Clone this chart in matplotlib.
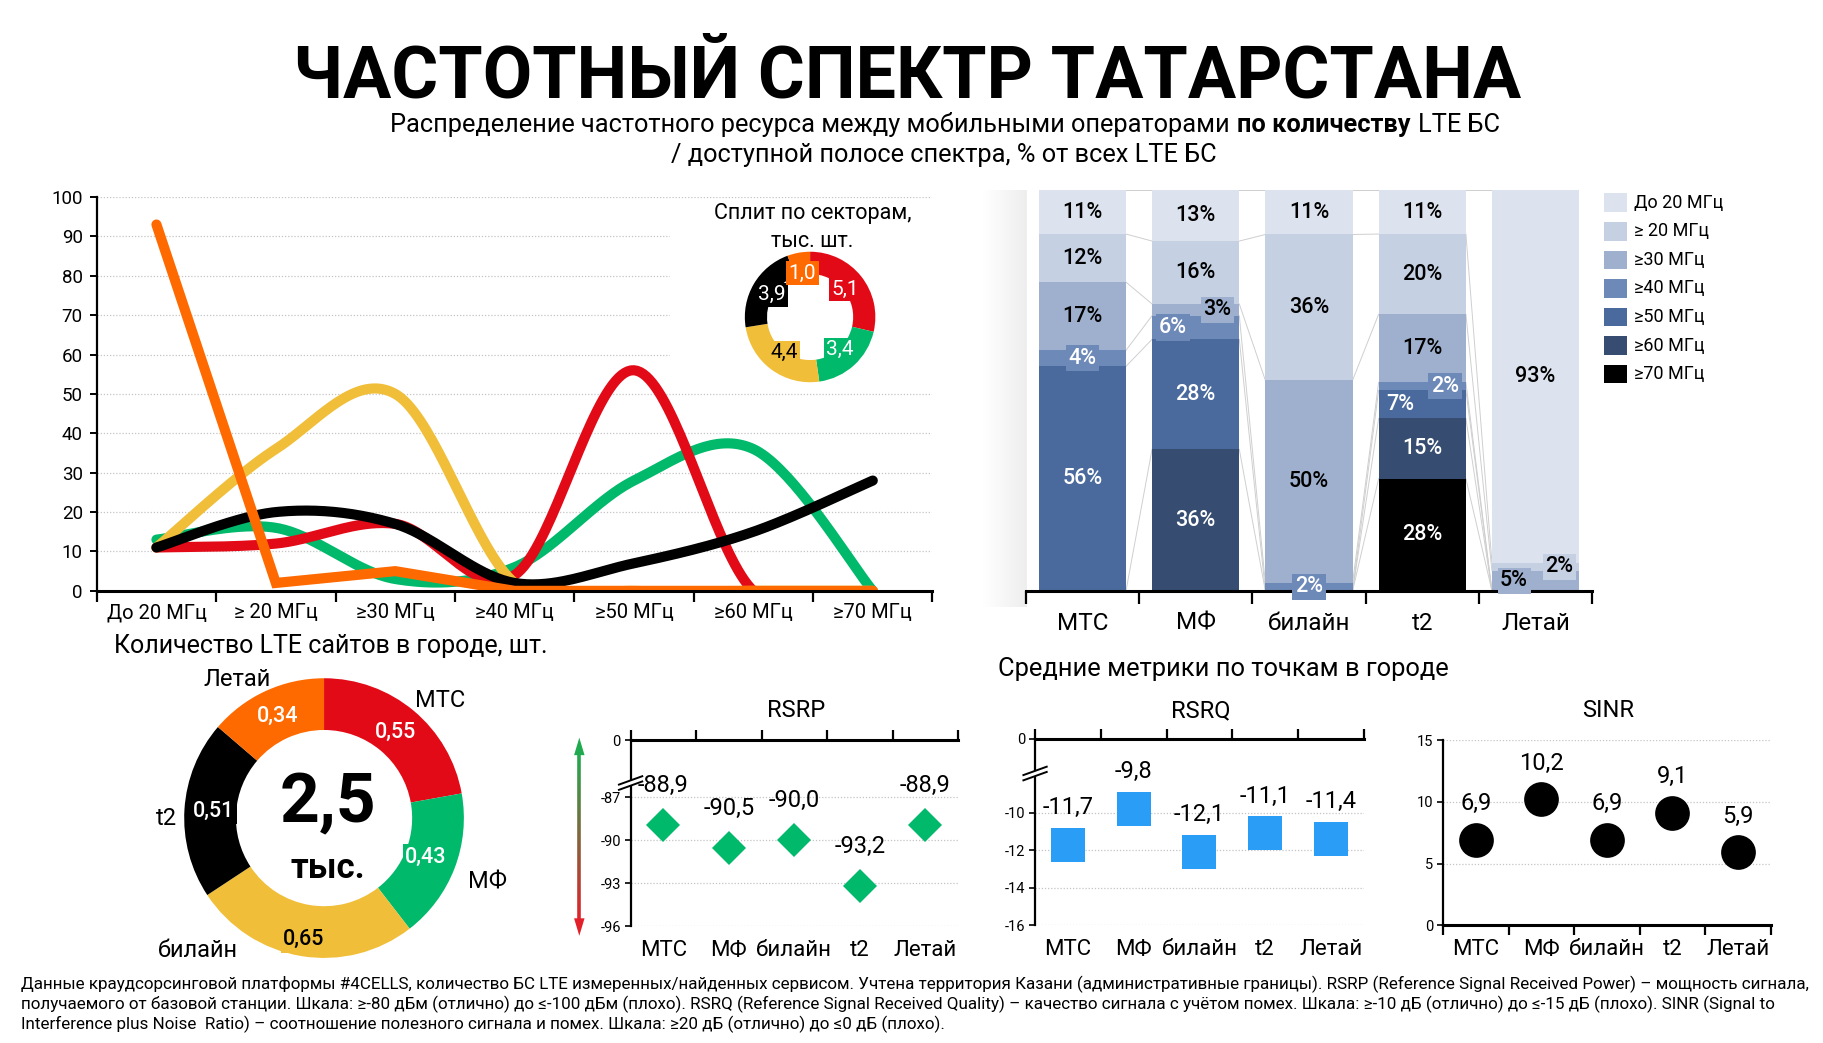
import numpy as np
import matplotlib
matplotlib.use('Agg')
import matplotlib.pyplot as plt
from matplotlib.patches import Rectangle, Polygon
from matplotlib.collections import LineCollection
from matplotlib.colors import LinearSegmentedColormap

plt.rcParams['font.family'] = ['Roboto', 'DejaVu Sans']

# ---------------- DATA ----------------
operators = ['МТС', 'МФ', 'билайн', 't2', 'Летай']
op_colors = ['#E30A17', '#00B96B', '#F0BE38', '#000000', '#FF6A00']

bands = ['До 20 МГц', '≥ 20 МГц', '≥30 МГц', '≥40 МГц', '≥50 МГц', '≥60 МГц', '≥70 МГц']
band_colors = ['#DDE3EE', '#C5D0E3', '#9EB0CE', '#6D89B8', '#4A6A9D', '#364C70', '#000000']

share_mts = [11, 12, 17, 4, 56, 0, 0]
share_mf = [13, 16, 3, 6, 28, 36, 0]
share_beeline = [11, 36, 50, 2, 0, 0, 0]
share_t2 = [11, 20, 17, 2, 7, 15, 28]
share_letai = [93, 2, 5, 0, 0, 0, 0]

line_yticks = [0, 10, 20, 30, 40, 50, 60, 70, 80, 90, 100]

sectors_k = [5.1, 3.4, 4.4, 3.9, 1.0]          # тыс. секторов
sites_k = [0.55, 0.43, 0.65, 0.51, 0.34]       # тыс. сайтов
sites_total = 2.5

rsrp = [-88.9, -90.5, -90.0, -93.2, -88.9]
rsrq = [-11.7, -9.8, -12.1, -11.1, -11.4]
sinr = [6.9, 10.2, 6.9, 9.1, 5.9]
rsrp_ticks = [-96, -93, -90, -87]
rsrq_ticks = [-16, -14, -12, -10]
sinr_ticks = [0, 5, 10, 15]
broken_top_label = '0'

title = 'ЧАСТОТНЫЙ СПЕКТР ТАТАРСТАНА'
sub1 = ['Распределение частотного ресурса между мобильными операторами', 'по количеству', 'LTE БС']
sub2 = '/ доступной полосе спектра, % от всех LTE БС'
footnote = [
    'Данные краудсорсинговой платформы #4CELLS, количество БС LTE измеренных/найденных сервисом. Учтена территория Казани (административные границы). RSRP (Reference Signal Received Power) – мощность сигнала,',
    'получаемого от базовой станции. Шкала: ≥-80 дБм (отлично) до ≤-100 дБм (плохо). RSRQ (Reference Signal Received Quality) – качество сигнала с учётом помех. Шкала: ≥-10 дБ (отлично) до ≤-15 дБ (плохо). SINR (Signal to',
    'Interference plus Noise  Ratio) – соотношение полезного сигнала и помех. Шкала: ≥20 дБ (отлично) до ≤0 дБ (плохо).',
]

shares = np.array([share_mts, share_mf, share_beeline, share_t2, share_letai], dtype=float)

# ---------------- LAYOUT HELPERS ----------------
W, H = 1564.0, 895.0
SX = 1823.0 / W

fig = plt.figure(figsize=(18.23, 10.43), dpi=100)
fig.patch.set_facecolor('white')
renderer = fig.canvas.get_renderer()


def rect(l, t, r, b):
    return [l / W, 1 - b / H, (r - l) / W, (b - t) / H]


def fit_text(x, y, s, width, size=12, **kw):
    t = fig.text(x / W, 1 - y / H, s, fontsize=size, **kw)
    w = t.get_window_extent(renderer=renderer).width
    t.set_fontsize(size * width * SX / w)
    return t


def measure(s, size, weight='normal'):
    t = fig.text(0, 0, s, fontsize=size, fontweight=weight)
    w = t.get_window_extent(renderer=renderer).width
    t.remove()
    return w


def fmt(v, d=1):
    return f'{v:.{d}f}'.replace('.', ',')


# ---------------- TITLES ----------------
fit_text(778, 84, title, 1055, size=50, fontweight='bold', ha='center', va='baseline')

weights = ['normal', 'bold', 'normal']
size_sub = 16
ws = [measure(s, size_sub, w) for s, w in zip(sub1, weights)]
sp = measure('a a', size_sub) - measure('aa', size_sub)
gaps = [0.55 * sp, 1.0 * sp]
scale = 952 * SX / (sum(ws) + sum(gaps))
size_sub *= scale
ws = [w * scale for w in ws]
gaps = [g * scale for g in gaps] + [0]
x = 811 * SX - (sum(ws) + sum(gaps)) / 2
for s, w, wt, g in zip(sub1, ws, weights, gaps):
    fig.text(x / 1823.0, 1 - 113 / H, s, fontsize=size_sub, fontweight=wt, va='baseline', ha='left')
    x += w + g
fig.text(810 / W, 1 - 139 / H, sub2, fontsize=size_sub, ha='center', va='baseline')

# ---------------- LINE CHART ----------------
def smooth(xs, ys, n=40):
    P = np.column_stack([xs, ys]).astype(float)
    Pe = np.vstack([P[0], P, P[-1]])
    t = np.linspace(0, 1, n)[:, None]
    out = []
    for i in range(len(P) - 1):
        p0, p1, p2, p3 = Pe[i], Pe[i + 1], Pe[i + 2], Pe[i + 3]
        c1 = p1 + (p2 - p0) / 6
        c2 = p2 - (p3 - p1) / 6
        seg = (1 - t) ** 3 * p1 + 3 * (1 - t) ** 2 * t * c1 + 3 * (1 - t) * t ** 2 * c2 + t ** 3 * p2
        out.append(seg if i == 0 else seg[1:])
    return np.vstack(out)


axl = fig.add_axes(rect(83, 169, 800, 507))
axl.set_xlim(0, 7)
axl.set_ylim(0, 100)
axl.set_axisbelow(True)
xc = np.arange(len(bands)) + 0.5
for y in line_yticks[1:]:
    axl.axhline(y, color='#c4c4c4', lw=0.9, ls=(0, (1, 1.5)), zorder=0.5)
axl.add_patch(Rectangle((4.8, 52), 2.2, 44, facecolor='white', edgecolor='none', zorder=1))
line_z = [3, 2, 4, 5, 6]
for k in range(len(operators)):
    if k == 4:
        xy = np.column_stack([xc, shares[k]])
        join = 'miter'
    else:
        xy = smooth(xc, shares[k])
        join = 'round'
    axl.plot(xy[:, 0], xy[:, 1], color=op_colors[k], lw=7.3, solid_capstyle='round',
             solid_joinstyle=join, zorder=line_z[k])
for s in ['top', 'right']:
    axl.spines[s].set_visible(False)
axl.spines['left'].set_linewidth(1.6)
axl.spines['bottom'].set_linewidth(2.2)
axl.spines['bottom'].set_zorder(7)
axl.set_yticks(line_yticks)
axl.tick_params(axis='y', labelsize=13.5, length=5, width=1.4, pad=5)
axl.set_xticks(xc, bands)
axl.tick_params(axis='x', which='major', length=0, labelsize=14.5, pad=9)
axl.set_xticks(np.arange(8), minor=True)
axl.tick_params(axis='x', which='minor', length=8, width=1.6)

# inset donut: sectors
fig.text(697 / W, 1 - 183 / H, 'Сплит по секторам,', fontsize=15.5, ha='center', va='center')
fig.text(697 / W, 1 - 207 / H, 'тыс. шт.', fontsize=15.5, ha='center', va='center')
axs = fig.add_axes(rect(695 - 56, 272 - 56, 695 + 56, 272 + 56))
axs.pie(sectors_k, colors=op_colors, startangle=90, counterclock=False, radius=1,
        wedgeprops=dict(width=0.34, edgecolor='none'))
axs.set_xlim(-1, 1)
axs.set_ylim(-1, 1)
axs.set_aspect('equal')
axs.axis('off')
cum = np.cumsum(sectors_k)
tot = cum[-1]
for k, v in enumerate(sectors_k):
    th = np.deg2rad(360 * (cum[k] - v / 2) / tot)
    r = 0.68
    col = 'black' if k == 2 else 'white'
    axs.text(r * np.sin(th), r * np.cos(th), fmt(v), ha='center', va='center', fontsize=15, color=col,
             bbox=dict(boxstyle='square,pad=0.12', facecolor=op_colors[k], edgecolor='none'))

# ---------------- STACKED BARS ----------------
axsh = fig.add_axes(rect(843, 163, 880, 521))
grad = np.linspace(0, 1, 50)[None, :]
axsh.imshow(grad, aspect='auto', cmap=LinearSegmentedColormap.from_list('sh', ['#ffffff', '#eeeeee']),
            extent=(0, 1, 0, 1))
axsh.axis('off')

axb = fig.add_axes(rect(880, 163, 1366, 507))
axb.set_xlim(-0.5, 4.5)
axb.set_ylim(0, 100)
bw = 0.77
heights = shares / shares.sum(axis=1, keepdims=True) * 100
nb = len(bands)
tops = np.zeros((len(operators), nb))
for j in range(nb - 1, -1, -1):
    bottom = heights[:, j + 1:].sum(axis=1)
    axb.bar(np.arange(len(operators)), heights[:, j], bw, bottom=bottom, color=band_colors[j], zorder=2)
    tops[:, j] = bottom + heights[:, j]
for j in range(nb):
    for i in range(len(operators) - 1):
        axb.plot([i + bw / 2, i + 1 - bw / 2], [tops[i, j], tops[i + 1, j]], color='#cfcfcf', lw=0.7, zorder=1)
label_dx = {(1, 3): -0.2, (1, 2): 0.19, (3, 4): -0.19, (3, 3): 0.2, (4, 2): -0.19, (4, 1): 0.21}
for i in range(len(operators)):
    for j in range(nb):
        v = shares[i, j]
        if v <= 0:
            continue
        yc = tops[i, j] - heights[i, j] / 2
        col = 'white' if j >= 3 else 'black'
        kw = {}
        if v < 10:
            kw['bbox'] = dict(boxstyle='square,pad=0.12', facecolor=band_colors[j], edgecolor='none')
        axb.text(i + label_dx.get((i, j), 0), yc, f'{int(v)}%', ha='center', va='center', fontsize=15.5,
                 fontweight='medium', color=col, zorder=4, **kw)
for s in ['top', 'right', 'left']:
    axb.spines[s].set_visible(False)
axb.spines['bottom'].set_linewidth(2.2)
axb.set_yticks([])
axb.set_xticks(np.arange(len(operators)), operators)
axb.tick_params(axis='x', which='major', length=0, labelsize=17.5, pad=15)
axb.set_xticks(np.arange(-0.5, 5, 1), minor=True)
axb.tick_params(axis='x', which='minor', length=9, width=1.6)
axb.set_zorder(2)
axb.patch.set_visible(False)

for j, (lab, c) in enumerate(zip(bands, band_colors)):
    yc = 174 + j * 24.5
    fig.patches.append(Rectangle((1376 / W, 1 - (yc + 8) / H), 20 / W, 16 / H, facecolor=c,
                                 edgecolor='none', transform=fig.transFigure, figure=fig))
    fig.text(1402 / W, 1 - yc / H, lab, fontsize=13, ha='left', va='center')

# ---------------- BIG DONUT ----------------
fit_text(98, 554, 'Количество LTE сайтов в городе, шт.', 372, size=18, ha='left', va='center')
axd = fig.add_axes(rect(278 - 120, 702 - 120, 278 + 120, 702 + 120))
axd.pie(sites_k, colors=op_colors, startangle=90, counterclock=False, radius=1,
        wedgeprops=dict(width=0.37, edgecolor='none'))
axd.set_xlim(-1, 1)
axd.set_ylim(-1, 1)
axd.set_aspect('equal')
axd.axis('off')
cum = np.cumsum(sites_k)
tot = cum[-1]
val_r = [0.8, 0.78, 0.88, 0.79, 0.8]
name_pos = [(0.83, 0.84), (1.17, -0.46), (-0.9, -0.95), (-1.13, 0.0), (-0.62, 0.99)]
for k, v in enumerate(sites_k):
    th = np.deg2rad(360 * (cum[k] - v / 2) / tot)
    r = val_r[k]
    col = 'black' if k == 2 else 'white'
    axd.text(r * np.sin(th), r * np.cos(th), fmt(v, 2), ha='center', va='center', fontsize=15.5,
             fontweight='medium', color=col,
             bbox=dict(boxstyle='square,pad=0.12', facecolor=op_colors[k], edgecolor='none'))
    axd.text(name_pos[k][0], name_pos[k][1], operators[k], ha='center', va='center', fontsize=17)
axd.text(0.03, 0.1, fmt(sites_total), ha='center', va='center', fontsize=50, fontweight='bold')
axd.text(0.03, -0.36, 'тыс.', ha='center', va='center', fontsize=25, fontweight='bold')

# ---------------- METRICS ----------------
fit_text(856, 574, 'Средние метрики по точкам в городе', 386, size=18, ha='left', va='center')


def draw_break(ax, yval):
    lo, hi = ax.get_ylim()
    ya = (yval - lo) / (hi - lo)
    bb = ax.get_position()
    wd = bb.width * W
    hd = bb.height * H
    dx = 10 / wd
    dy = 3.6 / hd
    sep = 4.5 / hd
    poly = Polygon([(-dx, ya - dy - sep / 2), (dx, ya + dy - sep / 2), (dx, ya + dy + sep / 2),
                    (-dx, ya - dy + sep / 2)],
                   closed=True, transform=ax.transAxes, facecolor='white', edgecolor='none', clip_on=False, zorder=5)
    ax.add_patch(poly)
    for s in (-sep / 2, sep / 2):
        ax.plot([-dx, dx], [ya - dy + s, ya + dy + s], transform=ax.transAxes, color='black', lw=1.4,
                clip_on=False, zorder=6)


def metric_axes(box, vals, ylim, ticks, top_label, marker, color, ms, label_off, ttl, ttl_x,
                axis_top, break_val=None):
    ax = fig.add_axes(rect(*box))
    ax.set_xlim(-0.5, 4.5)
    ax.set_ylim(*ylim)
    ax.patch.set_visible(False)
    for t in ticks:
        ax.axhline(t, color='#c4c4c4', lw=0.9, ls=(0, (1, 1.5)), zorder=0.5)
    ax.plot(np.arange(len(vals)), vals, ls='none', marker=marker, ms=ms, color=color, mec=color,
            mew=0, zorder=3, clip_on=False)
    for i, v in enumerate(vals):
        ax.annotate(fmt(v), (i, v), xytext=(0, label_off), textcoords='offset points', ha='center',
                    va='center', fontsize=17, zorder=4)
    yt = list(ticks)
    yl = [str(t) for t in ticks]
    if top_label is not None:
        yt.append(ylim[1])
        yl.append(top_label)
    ax.set_yticks(yt, yl)
    ax.tick_params(axis='y', labelsize=10.5, length=4, width=1.2, pad=3)
    ax.spines['right'].set_visible(False)
    ax.spines['left'].set_linewidth(1.6)
    if axis_top:
        ax.spines['bottom'].set_visible(False)
        ax.spines['top'].set_linewidth(2.2)
    else:
        ax.spines['top'].set_visible(False)
        ax.spines['bottom'].set_linewidth(2.2)
    ax.set_xticks([])
    ax.set_xticks(np.arange(-0.5, 5, 1), minor=True)
    ax.tick_params(axis='x', which='minor', top=axis_top, bottom=not axis_top, length=7, width=1.6,
                   direction='out')
    hdisp = box[3] - box[1]
    for i, op in enumerate(operators):
        ax.text(i, -21 / hdisp, op, transform=ax.get_xaxis_transform(), ha='center', va='center', fontsize=16)
    fig.text(ttl_x / W, 1 - 610 / H, ttl, fontsize=17, ha='center', va='center')
    if break_val is not None:
        draw_break(ax, break_val)
    return ax


metric_axes((541, 635, 822, 795), rsrp, (-96, -83), rsrp_ticks, broken_top_label, 'D', '#00B96B', 17, 28.5,
            'RSRP', 683, True, break_val=-86.0)
metric_axes((888, 634, 1170, 794), rsrq, (-16, -6.05), rsrq_ticks, broken_top_label, 's', '#2A9DF6', 25, 27,
            'RSRQ', 1030, True, break_val=-7.9)
metric_axes((1238, 635, 1519, 794), sinr, (0, 15), sinr_ticks, None, 'o', '#000000', 25, 26,
            'SINR', 1380, False)

# gradient arrow (good -> bad)
axa = fig.add_axes(rect(487, 630, 507, 806))
axa.set_xlim(487, 507)
axa.set_ylim(806, 630)
axa.axis('off')
ys = np.linspace(645, 791, 120)
segs = [[(497, ys[i]), (497, ys[i + 1])] for i in range(len(ys) - 1)]
cmap = LinearSegmentedColormap.from_list('gr', ['#1FAA4F', '#E3202A'])
lc = LineCollection(segs, colors=cmap(np.linspace(0, 1, len(segs))), linewidths=2.6)
axa.add_collection(lc)
axa.add_patch(Polygon([(492.5, 648), (501.5, 648), (497, 633)], closed=True, facecolor='#1FAA4F', edgecolor='none'))
axa.add_patch(Polygon([(492.5, 788), (501.5, 788), (497, 803)], closed=True, facecolor='#E3202A', edgecolor='none'))

# ---------------- FOOTNOTE ----------------
t0 = fit_text(18, 845, footnote[0], 1530, size=11, ha='left', va='center')
fs = t0.get_fontsize()
fig.text(18 / W, 1 - 862 / H, footnote[1], fontsize=fs, ha='left', va='center')
fig.text(18 / W, 1 - 879 / H, footnote[2], fontsize=fs, ha='left', va='center')

fig.savefig('out.png', dpi=100, facecolor='white')
